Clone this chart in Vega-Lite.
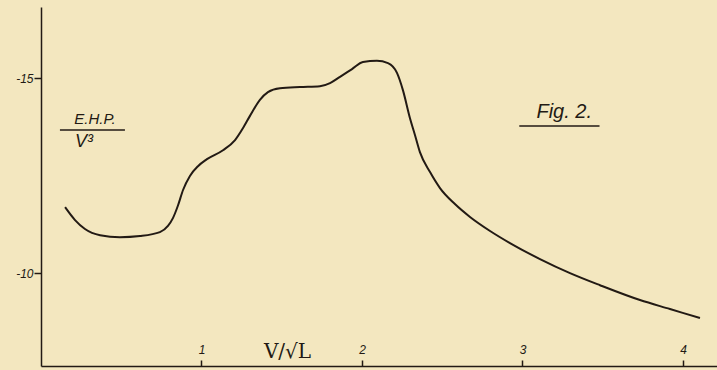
{
  "$schema": "https://vega.github.io/schema/vega-lite/v6.json",
  "autosize": "none",
  "width": 676,
  "height": 359,
  "padding": {"left": 41, "top": 7, "right": 0, "bottom": 4},
  "background": "#f3e7bf",
  "config": {"view": {"stroke": null}},
  "datasets": {
    "curve": [
      {"v": 0.150, "ehp": 0.1169}, {"v": 0.212, "ehp": 0.1136}, {"v": 0.274, "ehp": 0.1113},
      {"v": 0.368, "ehp": 0.1097}, {"v": 0.492, "ehp": 0.1092}, {"v": 0.617, "ehp": 0.1095},
      {"v": 0.741, "ehp": 0.1105}, {"v": 0.791, "ehp": 0.1121}, {"v": 0.822, "ehp": 0.1141},
      {"v": 0.854, "ehp": 0.1174}, {"v": 0.885, "ehp": 0.1213}, {"v": 0.928, "ehp": 0.1249},
      {"v": 0.978, "ehp": 0.1274}, {"v": 1.034, "ehp": 0.1292}, {"v": 1.134, "ehp": 0.1315},
      {"v": 1.209, "ehp": 0.1341}, {"v": 1.259, "ehp": 0.1372}, {"v": 1.302, "ehp": 0.1403},
      {"v": 1.364, "ehp": 0.1444}, {"v": 1.414, "ehp": 0.1464}, {"v": 1.489, "ehp": 0.1474},
      {"v": 1.614, "ehp": 0.1477}, {"v": 1.738, "ehp": 0.1479}, {"v": 1.801, "ehp": 0.1487},
      {"v": 1.863, "ehp": 0.1503}, {"v": 1.938, "ehp": 0.1523}, {"v": 2.006, "ehp": 0.1541},
      {"v": 2.093, "ehp": 0.1544}, {"v": 2.162, "ehp": 0.1538}, {"v": 2.218, "ehp": 0.1513},
      {"v": 2.255, "ehp": 0.1469}, {"v": 2.299, "ehp": 0.1397}, {"v": 2.330, "ehp": 0.1354},
      {"v": 2.361, "ehp": 0.1310}, {"v": 2.424, "ehp": 0.1259}, {"v": 2.486, "ehp": 0.1218},
      {"v": 2.579, "ehp": 0.1177}, {"v": 2.673, "ehp": 0.1144}, {"v": 2.798, "ehp": 0.1108},
      {"v": 2.922, "ehp": 0.1077}, {"v": 3.109, "ehp": 0.1036}, {"v": 3.296, "ehp": 0.1000},
      {"v": 3.483, "ehp": 0.0969}, {"v": 3.732, "ehp": 0.0931}, {"v": 3.919, "ehp": 0.0908},
      {"v": 4.106, "ehp": 0.0885}
    ],
    "notes": [
      {"x": 0.336, "y": 0.1394, "label": "E.H.P.", "size": 15},
      {"x": 0.268, "y": 0.1337, "label": "V³", "size": 18},
      {"x": 3.26, "y": 0.1412, "label": "Fig. 2.", "size": 20}
    ],
    "bars": [
      {"x": 0.118, "x2": 0.523, "y": 0.1367},
      {"x": 2.98, "x2": 3.48, "y": 0.1377}
    ]
  },
  "layer": [
    {
      "data": {"name": "curve"},
      "mark": {"type": "line", "interpolate": "monotone", "color": "#221a14", "strokeWidth": 2},
      "encoding": {
        "x": {
          "field": "v", "type": "quantitative",
          "scale": {"domain": [0, 4.212], "nice": false, "zero": false},
          "axis": {
            "values": [1, 2, 3, 4], "format": "d", "grid": false,
            "domainColor": "#221a14", "domainWidth": 1.5,
            "tickColor": "#221a14", "tickWidth": 1.5, "tickSize": -6,
            "labelFont": "Liberation Sans", "labelFontStyle": "italic", "labelFontSize": 12,
            "labelColor": "#221a14", "labelBaseline": "middle", "labelPadding": -11,
            "labelFlush": false,
            "title": "V/√L", "titleFont": "DejaVu Serif", "titleFontSize": 20,
            "titleFontWeight": "normal", "titleColor": "#221a14",
            "titleX": 246, "titleY": -15, "titleAlign": "center", "titleBaseline": "middle", "titleAnchor": null
          }
        },
        "y": {
          "field": "ehp", "type": "quantitative",
          "scale": {"domain": [0.0762, 0.1682], "nice": false, "zero": false},
          "axis": {
            "values": [0.10, 0.15], "grid": false,
            "labelExpr": "datum.value > 0.12 ? '-15' : '-10'",
            "domainColor": "#221a14", "domainWidth": 1.5,
            "tickColor": "#221a14", "tickWidth": 1.5, "tickSize": 7,
            "labelFont": "Liberation Sans", "labelFontStyle": "italic", "labelFontSize": 12,
            "labelColor": "#221a14", "labelPadding": 1,
            "title": null
          }
        }
      }
    },
    {
      "data": {"name": "bars"},
      "mark": {"type": "rule", "color": "#221a14", "strokeWidth": 1.5},
      "encoding": {
        "x": {"field": "x", "type": "quantitative"},
        "x2": {"field": "x2"},
        "y": {"field": "y", "type": "quantitative"}
      }
    },
    {
      "data": {"name": "notes"},
      "mark": {"type": "text", "color": "#221a14", "font": "Liberation Sans", "fontStyle": "italic", "align": "center", "baseline": "middle"},
      "encoding": {
        "x": {"field": "x", "type": "quantitative"},
        "y": {"field": "y", "type": "quantitative"},
        "text": {"field": "label"},
        "size": {"field": "size", "type": "quantitative", "scale": null, "legend": null}
      }
    }
  ]
}
